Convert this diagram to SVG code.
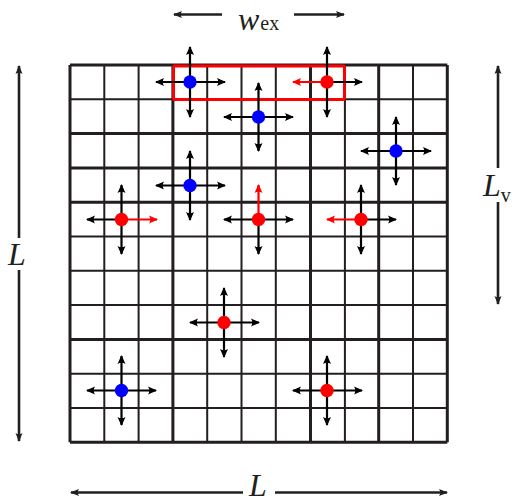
<svg xmlns="http://www.w3.org/2000/svg" width="512" height="503" viewBox="0 0 512 503">
<defs>
<marker id="ah" markerUnits="userSpaceOnUse" markerWidth="12" markerHeight="10" viewBox="-10 -5 12 10" refX="0" refY="0" orient="auto">
<path d="M1,0 L-8,-4 Q-5.5,0 -8,4 Z" fill="#000"/>
</marker>
<marker id="ahr" markerUnits="userSpaceOnUse" markerWidth="12" markerHeight="10" viewBox="-10 -5 12 10" refX="0" refY="0" orient="auto">
<path d="M1,0 L-8,-4 Q-5.5,0 -8,4 Z" fill="#ff0000"/>
</marker>
<marker id="dh" markerUnits="userSpaceOnUse" markerWidth="12" markerHeight="10" viewBox="-10 -5 12 10" refX="0" refY="0" orient="auto">
<path d="M1,0 L-8,-3.5 Q-5.5,0 -8,3.5 Z" fill="#231f20"/>
</marker>
</defs>
<style>
.g{stroke:#231f20;stroke-width:2;fill:none}
.gt{stroke:#231f20;stroke-width:3;fill:none}
.a{stroke:#000;stroke-width:2.2;marker-end:url(#ah)}
.ar{stroke:#ff0000;stroke-width:2.2;marker-end:url(#ahr)}
.dim{stroke:#231f20;stroke-width:2.6;marker-end:url(#dh)}
.blue{fill:#0000ff}
.red{fill:#ff0000}
.lbl{font-family:"Liberation Serif",serif;font-style:italic;font-size:32px;fill:#231f20}
.sub{font-family:"Liberation Serif",serif;font-size:20px;fill:#231f20}
</style>
<rect width="512" height="503" fill="#fff"/>
<g id="grid">
<path class="g" d="M104.3,65V442.3M138.6,65V442.3M207.2,65V442.3M241.5,65V442.3M275.8,65V442.3M344.9,65V442.3M413,65V442.3"/>
<path class="gt" d="M70,65V442.3M172.9,65V442.3M310.5,65V442.3M378.7,65V442.3M447.3,65V442.3"/>
<path class="g" d="M70,99.3H447.3M70,236.5H447.3M70,270.8H447.3M70,305.1H447.3M70,373.7H447.3M70,408H447.3"/>
<path class="gt" d="M70,65H447.3M70,133.6H447.3M70,167.9H447.3M70,202.2H447.3M70,339.4H447.3M70,442.3H447.3"/>
</g>
<g id="box">
<rect x="173.5" y="66" width="171" height="33.5" rx="1.5" fill="none" stroke="#ff0000" stroke-width="3"/>
</g>
<g id="connectors">
<line class="dim" x1="222" y1="14.5" x2="174" y2="14.5"/>
<line class="dim" x1="294" y1="14.5" x2="344" y2="14.5"/>
<line class="dim" x1="243" y1="492.5" x2="71" y2="492.5"/>
<line class="dim" x1="275" y1="492.5" x2="447" y2="492.5"/>
<line class="dim" x1="19" y1="238" x2="19" y2="66"/>
<line class="dim" x1="19" y1="270" x2="19" y2="441"/>
<line class="dim" x1="498" y1="168" x2="498" y2="66"/>
<line class="dim" x1="498" y1="202" x2="498" y2="304"/>
</g>
<g id="n1"><line class="a" x1="190" y1="82" x2="190" y2="47"/><line class="a" x1="190" y1="82" x2="190" y2="117"/><line class="a" x1="190" y1="82" x2="156" y2="82"/><line class="a" x1="190" y1="82" x2="225" y2="82"/><circle class="blue" cx="190" cy="82" r="6.7"/></g>
<g id="n2"><line class="a" x1="327" y1="82" x2="327" y2="47" stroke-width="3"/><line class="a" x1="327" y1="82" x2="327" y2="117" stroke-width="3"/><line class="ar" x1="327" y1="82" x2="293" y2="82"/><line class="a" x1="327" y1="82" x2="362" y2="82"/><circle class="red" cx="327" cy="82" r="6.7"/></g>
<g id="n3"><line class="a" x1="258.5" y1="117" x2="258.5" y2="83"/><line class="a" x1="258.5" y1="117" x2="258.5" y2="151"/><line class="a" x1="258.5" y1="117" x2="224" y2="117"/><line class="a" x1="258.5" y1="117" x2="293" y2="117"/><circle class="blue" cx="258.5" cy="117" r="6.7"/></g>
<g id="n4"><line class="a" x1="396" y1="151" x2="396" y2="117"/><line class="a" x1="396" y1="151" x2="396" y2="185"/><line class="a" x1="396" y1="151" x2="361" y2="151"/><line class="a" x1="396" y1="151" x2="431" y2="151"/><circle class="blue" cx="396" cy="151" r="6.7"/></g>
<g id="n5"><line class="a" x1="190" y1="185.5" x2="190" y2="151"/><line class="a" x1="190" y1="185.5" x2="190" y2="220"/><line class="a" x1="190" y1="185.5" x2="156" y2="185.5"/><line class="a" x1="190" y1="185.5" x2="225" y2="185.5"/><circle class="blue" cx="190" cy="185.5" r="6.7"/></g>
<g id="n6"><line class="a" x1="121.5" y1="219.5" x2="121.5" y2="185"/><line class="a" x1="121.5" y1="219.5" x2="121.5" y2="254"/><line class="a" x1="121.5" y1="219.5" x2="87" y2="219.5"/><line class="ar" x1="121.5" y1="219.5" x2="157" y2="219.5"/><circle class="red" cx="121.5" cy="219.5" r="6.7"/></g>
<g id="n7"><line class="ar" x1="258.5" y1="219.5" x2="258.5" y2="185"/><line class="a" x1="258.5" y1="219.5" x2="258.5" y2="254"/><line class="a" x1="258.5" y1="219.5" x2="224" y2="219.5"/><line class="a" x1="258.5" y1="219.5" x2="293" y2="219.5"/><circle class="red" cx="258.5" cy="219.5" r="6.7"/></g>
<g id="n8"><line class="a" x1="361" y1="219.5" x2="361" y2="185"/><line class="a" x1="361" y1="219.5" x2="361" y2="254"/><line class="ar" x1="361" y1="219.5" x2="327" y2="219.5"/><line class="a" x1="361" y1="219.5" x2="396" y2="219.5"/><circle class="red" cx="361" cy="219.5" r="6.7"/></g>
<g id="n9"><line class="a" x1="224" y1="322.5" x2="224" y2="288"/><line class="a" x1="224" y1="322.5" x2="224" y2="357"/><line class="a" x1="224" y1="322.5" x2="190" y2="322.5"/><line class="a" x1="224" y1="322.5" x2="259" y2="322.5"/><circle class="red" cx="224" cy="322.5" r="6.7"/></g>
<g id="n10"><line class="a" x1="121.5" y1="390.5" x2="121.5" y2="356"/><line class="a" x1="121.5" y1="390.5" x2="121.5" y2="425"/><line class="a" x1="121.5" y1="390.5" x2="87" y2="390.5"/><line class="a" x1="121.5" y1="390.5" x2="156" y2="390.5"/><circle class="blue" cx="121.5" cy="390.5" r="6.7"/></g>
<g id="n11"><line class="a" x1="327" y1="390.5" x2="327" y2="356"/><line class="a" x1="327" y1="390.5" x2="327" y2="425"/><line class="a" x1="327" y1="390.5" x2="293" y2="390.5"/><line class="a" x1="327" y1="390.5" x2="362" y2="390.5"/><circle class="red" cx="327" cy="390.5" r="6.7"/></g>
<g id="labels">
<text class="lbl" x="238" y="30" font-size="28">w<tspan class="sub" dx="1" dy="0" font-style="normal">ex</tspan></text>
<text class="lbl" x="249" y="496">L</text>
<text class="lbl" x="8" y="265">L</text>
<text class="lbl" x="483" y="196">L<tspan class="sub" font-size="18" dx="0" dy="6" font-style="normal">v</tspan></text>
</g>
</svg>
